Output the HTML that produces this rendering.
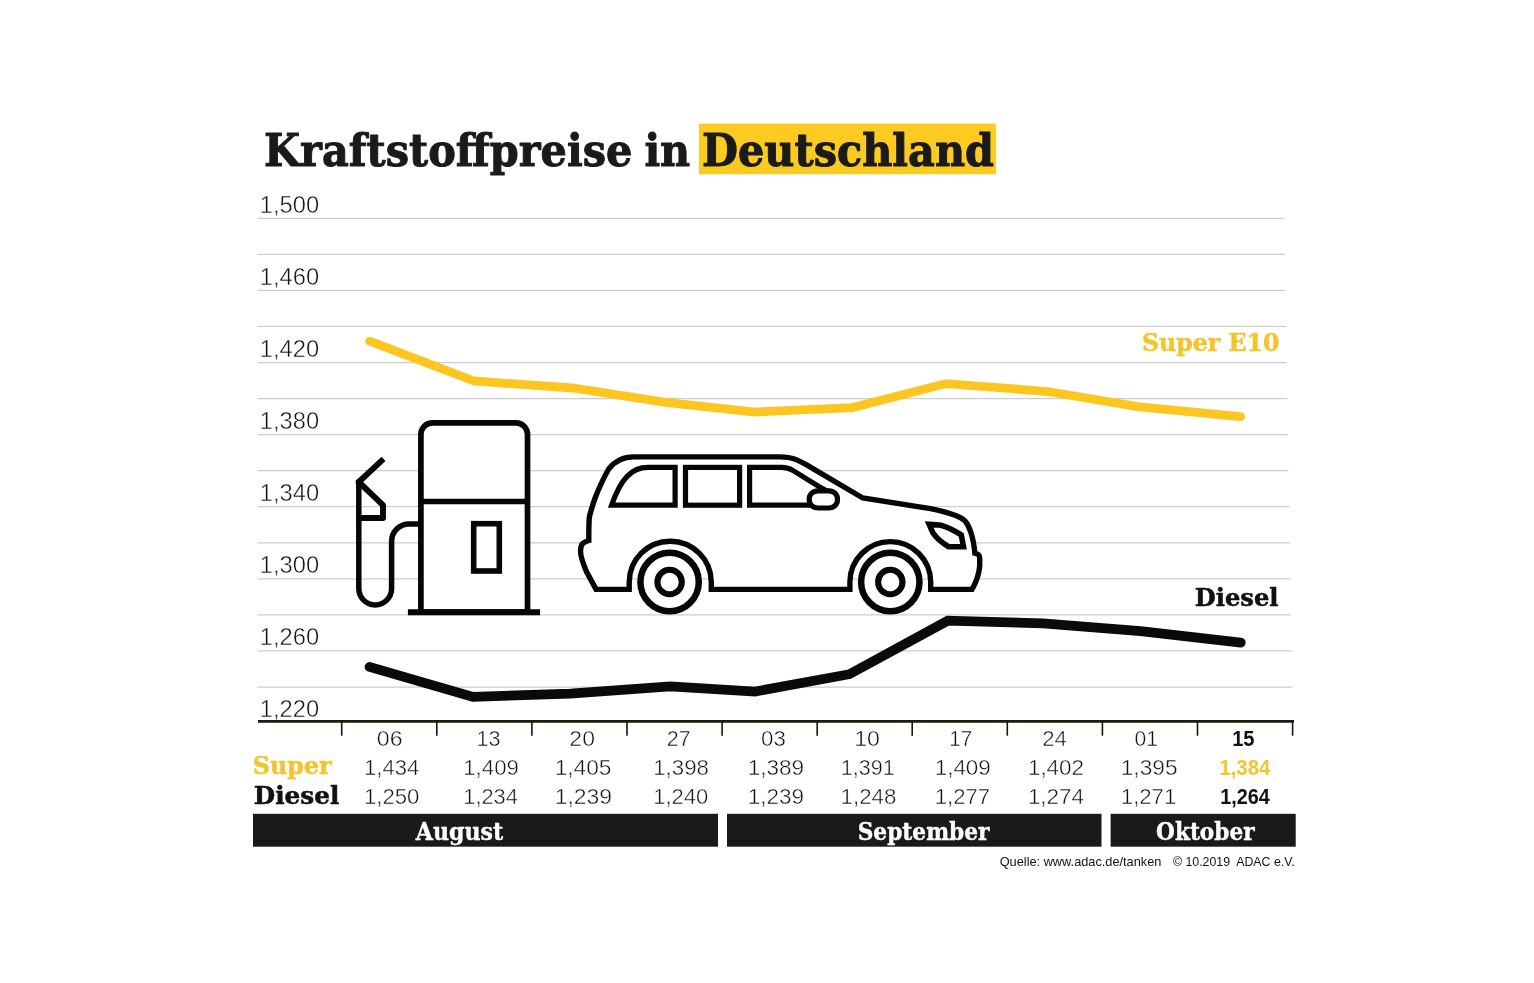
<!DOCTYPE html>
<html lang="de"><head><meta charset="utf-8"><title>Kraftstoffpreise in Deutschland</title>
<style>html,body{margin:0;padding:0;background:#fff}svg{display:block}.slab{font-family:"DejaVu Serif","Liberation Serif",serif;font-weight:bold}.sans{font-family:"Liberation Sans","DejaVu Sans",sans-serif}</style></head><body>
<svg width="1534" height="983" viewBox="0 0 1534 983">
<rect width="1534" height="983" fill="#fff"/>
<rect x="699" y="123.6" width="297" height="50.6" fill="#fccb22"/>
<text class="slab" x="264.09" y="166" font-size="45.5" fill="#1a1a18" stroke="#1a1a18" stroke-width="1.0" stroke-linejoin="round" textLength="368.29" lengthAdjust="spacingAndGlyphs">Kraftstoffpreise</text>
<text class="slab" x="644.39" y="166" font-size="45.5" fill="#1a1a18" stroke="#1a1a18" stroke-width="1.0" stroke-linejoin="round" textLength="45.85" lengthAdjust="spacingAndGlyphs">in</text>
<text class="slab" x="702.09" y="166" font-size="45.5" fill="#1a1a18" stroke="#1a1a18" stroke-width="1.0" stroke-linejoin="round" textLength="291.94" lengthAdjust="spacingAndGlyphs">Deutschland</text>
<g stroke="#cdcdcf" stroke-width="1.25" fill="none">
<line x1="257.5" y1="218.3" x2="1284.0" y2="218.3"/>
<line x1="257.5" y1="254.4" x2="1284.7" y2="254.4"/>
<line x1="257.5" y1="290.4" x2="1285.3" y2="290.4"/>
<line x1="257.5" y1="326.4" x2="1286.0" y2="326.4"/>
<line x1="257.5" y1="362.5" x2="1286.6" y2="362.5"/>
<line x1="257.5" y1="398.6" x2="1287.3" y2="398.6"/>
<line x1="257.5" y1="434.6" x2="1287.9" y2="434.6"/>
<line x1="257.5" y1="470.6" x2="1288.6" y2="470.6"/>
<line x1="257.5" y1="506.7" x2="1289.2" y2="506.7"/>
<line x1="257.5" y1="542.8" x2="1289.9" y2="542.8"/>
<line x1="257.5" y1="578.8" x2="1290.5" y2="578.8"/>
<line x1="257.5" y1="614.8" x2="1291.2" y2="614.8"/>
<line x1="257.5" y1="650.9" x2="1291.8" y2="650.9"/>
<line x1="257.5" y1="687.0" x2="1292.5" y2="687.0"/>
</g>
<text class="sans" x="259.81" y="212.9" font-size="23.9" fill="#111111" stroke="#fff" stroke-width="0.45" textLength="59.38" lengthAdjust="spacingAndGlyphs">1,500</text>
<text class="sans" x="259.81" y="284.9" font-size="23.9" fill="#111111" stroke="#fff" stroke-width="0.45" textLength="59.38" lengthAdjust="spacingAndGlyphs">1,460</text>
<text class="sans" x="259.81" y="356.9" font-size="23.9" fill="#111111" stroke="#fff" stroke-width="0.45" textLength="59.38" lengthAdjust="spacingAndGlyphs">1,420</text>
<text class="sans" x="259.81" y="428.9" font-size="23.9" fill="#111111" stroke="#fff" stroke-width="0.45" textLength="59.38" lengthAdjust="spacingAndGlyphs">1,380</text>
<text class="sans" x="259.81" y="500.9" font-size="23.9" fill="#111111" stroke="#fff" stroke-width="0.45" textLength="59.38" lengthAdjust="spacingAndGlyphs">1,340</text>
<text class="sans" x="259.81" y="572.9" font-size="23.9" fill="#111111" stroke="#fff" stroke-width="0.45" textLength="59.38" lengthAdjust="spacingAndGlyphs">1,300</text>
<text class="sans" x="259.81" y="644.8" font-size="23.9" fill="#111111" stroke="#fff" stroke-width="0.45" textLength="59.38" lengthAdjust="spacingAndGlyphs">1,260</text>
<text class="sans" x="259.81" y="716.8" font-size="23.9" fill="#111111" stroke="#fff" stroke-width="0.45" textLength="59.38" lengthAdjust="spacingAndGlyphs">1,220</text>
<polyline points="369.6,341.2 474,381 572.6,388 665.5,402.4 755,412 852.7,407.6 945.9,383.6 1047.5,391.5 1139,406.8 1240.7,416.6" fill="none" stroke="#fcc621" stroke-width="8.8" stroke-linecap="round" stroke-linejoin="miter"/>
<g fill="none" stroke="#060606" stroke-linejoin="miter">

<path d="M420.9 612.2 V434.3 a11.5 11.5 0 0 1 11.5 -11.5 H516 a11.5 11.5 0 0 1 11.5 11.5 V612.2 Z" fill="#fff" stroke-width="5.7"/>
<line x1="407.9" y1="612.2" x2="540.1" y2="612.2" stroke-width="6.1"/>
<line x1="420.9" y1="501.5" x2="527.5" y2="501.5" stroke-width="5.6"/>
<rect x="473.7" y="523.7" width="25.6" height="47.3" stroke-width="5.6"/>
<path d="M420.9 523.9 H409.1 a17.5 17.5 0 0 0 -17.5 17.5 V588.5 a16.4 16.4 0 0 1 -32.8 0 V484" stroke-width="5.5"/>
<path d="M383.5 458.9 L358.8 482 L383 505.2 V518 H358.8" stroke-width="5.9" stroke-linejoin="round"/><path d="M355.85 484 V480.5 L358.8 478 V484 Z" fill="#060606" stroke="none"/>

<path d="M596.1 589.4 L586.4 571.5 C582 561 580 555 580.6 550.2 C580.8 544 583 542.2 588.8 540.5 L588.8 537.6 C588.8 530 588.8 524 589.3 517.3 C591 510 593 504 595.1 498 C599 488 603 479 608.7 469 C615 461 622 456.9 633.8 456.9 H779.7 C786 456.9 790 457.3 795.1 459.3 C800 461 804 463.5 808.7 466.1 L862.8 498 L930.4 508.6 C940 510.5 948 512.5 955.6 515.4 C960 517 963 518.5 965.3 521.2 C968 524.5 969.5 528 971 532.8 C973 539 974 544 974.9 553.2 C978.5 554 979.7 555 979.7 558 V565.7 C979.5 570 978.5 574 976.8 579.2 C975.5 583 974 586 972 589.4 H930.7 V582 a40.4 40.4 0 0 0 -80.8 0 V589.4 H711.3 V582.2 a41.05 41.05 0 0 0 -82.1 0 V589.4 Z" fill="#fff" stroke-width="5.4"/>
<circle cx="669.6" cy="582" r="29.2" fill="#fff" stroke-width="6.5"/>
<circle cx="669.6" cy="582" r="12.2" stroke-width="6.1"/>
<circle cx="890.3" cy="582" r="29.2" fill="#fff" stroke-width="6.5"/>
<circle cx="890.3" cy="582" r="12.2" stroke-width="6.1"/>
<path d="M611.6 505.2 H675.1 V467.4 H648 C632 467.4 621 478 611.6 505.2 Z" stroke-width="5.2"/>
<rect x="685.5" y="467.4" width="54.1" height="37.8" stroke-width="5.2"/>
<path d="M833 494.3 L818.8 486.5 L793.2 470.6 C789 468 786 467.4 781.6 467.4 H749.6 V505.2 H811" stroke-width="5.2"/>
<rect x="809.2" y="490.8" width="28.3" height="17.2" rx="8.6" ry="8.2" fill="#fff" stroke-width="5.2"/>
<path d="M929.1 524.3 C934 524.5 937 524.6 940.8 525.2 C946 526.5 955 531 961.3 534.9 L963.5 546.7 H948.7 C943 543.5 936 537.5 932.7 532.5 Z" stroke-width="5.6"/>
</g>

<polyline points="369.5,666.9 472.9,696.9 570.3,693.6 670.3,686.4 755.1,691.5 849.4,674.2 947.8,620.7 1043,623.3 1140.5,631.1 1240.8,642.6" fill="none" stroke="#0a0a0a" stroke-width="9.7" stroke-linecap="round" stroke-linejoin="miter"/>
<text class="slab" x="1141.9" y="350.5" font-size="23.7" fill="#f5c42c" stroke="#f5c42c" stroke-width="0.5" stroke-linejoin="round" textLength="137.52" lengthAdjust="spacingAndGlyphs">Super E10</text>
<text class="slab" x="1194.8" y="605.8" font-size="23.9" fill="#111" stroke="#111" stroke-width="0.5" stroke-linejoin="round" textLength="83.73" lengthAdjust="spacingAndGlyphs">Diesel</text>
<line x1="258" y1="721.45" x2="1294" y2="721.45" stroke="#1c1a0a" stroke-width="2.7"/>
<g stroke="#16140a" stroke-width="1.6">
<line x1="341.7" y1="721" x2="341.7" y2="735.7"/>
<line x1="436.8" y1="721" x2="436.8" y2="735.7"/>
<line x1="531.9" y1="721" x2="531.9" y2="735.7"/>
<line x1="627.0" y1="721" x2="627.0" y2="735.7"/>
<line x1="722.1" y1="721" x2="722.1" y2="735.7"/>
<line x1="817.2" y1="721" x2="817.2" y2="735.7"/>
<line x1="912.2" y1="721" x2="912.2" y2="735.7"/>
<line x1="1007.3" y1="721" x2="1007.3" y2="735.7"/>
<line x1="1102.4" y1="721" x2="1102.4" y2="735.7"/>
<line x1="1197.5" y1="721" x2="1197.5" y2="735.7"/>
<line x1="1292.6" y1="721" x2="1292.6" y2="735.7"/>
</g>
<rect x="253" y="813.8" width="465.0" height="32.9" fill="#1a1a18"/>
<rect x="727" y="813.8" width="374.5" height="32.9" fill="#1a1a18"/>
<rect x="1110.6" y="813.8" width="185.1" height="32.9" fill="#1a1a18"/>
<text class="sans" x="376.87" y="746" font-size="22.5" fill="#111111" stroke="#fff" stroke-width="0.45" textLength="25.79" lengthAdjust="spacingAndGlyphs">06</text>
<text class="sans" x="364.04" y="775" font-size="22.5" fill="#111111" stroke="#fff" stroke-width="0.45" textLength="55.17" lengthAdjust="spacingAndGlyphs">1,434</text>
<text class="sans" x="364.03" y="803.9" font-size="22.5" fill="#111111" stroke="#fff" stroke-width="0.45" textLength="55.37" lengthAdjust="spacingAndGlyphs">1,250</text>
<text class="sans" x="476.57" y="746" font-size="22.5" fill="#111111" stroke="#fff" stroke-width="0.45" textLength="24.12" lengthAdjust="spacingAndGlyphs">13</text>
<text class="sans" x="463.22" y="775" font-size="22.5" fill="#111111" stroke="#fff" stroke-width="0.45" textLength="55.68" lengthAdjust="spacingAndGlyphs">1,409</text>
<text class="sans" x="463.26" y="803.9" font-size="22.5" fill="#111111" stroke="#fff" stroke-width="0.45" textLength="54.64" lengthAdjust="spacingAndGlyphs">1,234</text>
<text class="sans" x="569.38" y="746" font-size="22.5" fill="#111111" stroke="#fff" stroke-width="0.45" textLength="25.58" lengthAdjust="spacingAndGlyphs">20</text>
<text class="sans" x="554.68" y="775" font-size="22.5" fill="#111111" stroke="#fff" stroke-width="0.45" textLength="56.84" lengthAdjust="spacingAndGlyphs">1,405</text>
<text class="sans" x="554.66" y="803.9" font-size="22.5" fill="#111111" stroke="#fff" stroke-width="0.45" textLength="57.48" lengthAdjust="spacingAndGlyphs">1,239</text>
<text class="sans" x="666.85" y="746" font-size="22.5" fill="#111111" stroke="#fff" stroke-width="0.45" textLength="23.83" lengthAdjust="spacingAndGlyphs">27</text>
<text class="sans" x="653.22" y="775" font-size="22.5" fill="#111111" stroke="#fff" stroke-width="0.45" textLength="55.67" lengthAdjust="spacingAndGlyphs">1,398</text>
<text class="sans" x="653.24" y="803.9" font-size="22.5" fill="#111111" stroke="#fff" stroke-width="0.45" textLength="55.06" lengthAdjust="spacingAndGlyphs">1,240</text>
<text class="sans" x="761.01" y="746" font-size="22.5" fill="#111111" stroke="#fff" stroke-width="0.45" textLength="24.81" lengthAdjust="spacingAndGlyphs">03</text>
<text class="sans" x="747.7" y="775" font-size="22.5" fill="#111111" stroke="#fff" stroke-width="0.45" textLength="56.42" lengthAdjust="spacingAndGlyphs">1,389</text>
<text class="sans" x="747.7" y="803.9" font-size="22.5" fill="#111111" stroke="#fff" stroke-width="0.45" textLength="56.42" lengthAdjust="spacingAndGlyphs">1,239</text>
<text class="sans" x="854.15" y="746" font-size="22.5" fill="#111111" stroke="#fff" stroke-width="0.45" textLength="25.71" lengthAdjust="spacingAndGlyphs">10</text>
<text class="sans" x="840.68" y="775" font-size="22.5" fill="#111111" stroke="#fff" stroke-width="0.45" textLength="53.97" lengthAdjust="spacingAndGlyphs">1,391</text>
<text class="sans" x="840.62" y="803.9" font-size="22.5" fill="#111111" stroke="#fff" stroke-width="0.45" textLength="55.67" lengthAdjust="spacingAndGlyphs">1,248</text>
<text class="sans" x="949.26" y="746" font-size="22.5" fill="#111111" stroke="#fff" stroke-width="0.45" textLength="22.98" lengthAdjust="spacingAndGlyphs">17</text>
<text class="sans" x="934.71" y="775" font-size="22.5" fill="#111111" stroke="#fff" stroke-width="0.45" textLength="56.1" lengthAdjust="spacingAndGlyphs">1,409</text>
<text class="sans" x="934.73" y="803.9" font-size="22.5" fill="#111111" stroke="#fff" stroke-width="0.45" textLength="55.46" lengthAdjust="spacingAndGlyphs">1,277</text>
<text class="sans" x="1042.22" y="746" font-size="22.5" fill="#111111" stroke="#fff" stroke-width="0.45" textLength="24.6" lengthAdjust="spacingAndGlyphs">24</text>
<text class="sans" x="1027.9" y="775" font-size="22.5" fill="#111111" stroke="#fff" stroke-width="0.45" textLength="56.21" lengthAdjust="spacingAndGlyphs">1,402</text>
<text class="sans" x="1027.91" y="803.9" font-size="22.5" fill="#111111" stroke="#fff" stroke-width="0.45" textLength="56.1" lengthAdjust="spacingAndGlyphs">1,274</text>
<text class="sans" x="1134.57" y="746" font-size="22.5" fill="#111111" stroke="#fff" stroke-width="0.45" textLength="23.4" lengthAdjust="spacingAndGlyphs">01</text>
<text class="sans" x="1120.78" y="775" font-size="22.5" fill="#111111" stroke="#fff" stroke-width="0.45" textLength="56.74" lengthAdjust="spacingAndGlyphs">1,395</text>
<text class="sans" x="1120.83" y="803.9" font-size="22.5" fill="#111111" stroke="#fff" stroke-width="0.45" textLength="55.36" lengthAdjust="spacingAndGlyphs">1,271</text>
<text class="sans" x="1232.17" y="745.7" font-size="21.5" font-weight="bold" fill="#111" textLength="22.36" lengthAdjust="spacingAndGlyphs">15</text>
<text class="sans" x="1219.46" y="774.5" font-size="21.5" font-weight="bold" fill="#f5c42c" textLength="50.77" lengthAdjust="spacingAndGlyphs">1,384</text>
<text class="sans" x="1220.28" y="803.7" font-size="21.5" font-weight="bold" fill="#111" textLength="49.55" lengthAdjust="spacingAndGlyphs">1,264</text>
<text class="slab" x="252.79" y="774.2" font-size="23.5" fill="#f5c42c" stroke="#f5c42c" stroke-width="0.5" stroke-linejoin="round" textLength="78.73" lengthAdjust="spacingAndGlyphs">Super</text>
<text class="slab" x="253.8" y="803.6" font-size="23.5" fill="#111" stroke="#111" stroke-width="0.5" stroke-linejoin="round" textLength="85.49" lengthAdjust="spacingAndGlyphs">Diesel</text>
<text class="slab" x="415.84" y="839.7" font-size="23.5" fill="#fff" stroke="#fff" stroke-width="0.4" stroke-linejoin="round" textLength="87.39" lengthAdjust="spacingAndGlyphs">August</text>
<text class="slab" x="857.68" y="839.7" font-size="23.5" fill="#fff" stroke="#fff" stroke-width="0.4" stroke-linejoin="round" textLength="131.81" lengthAdjust="spacingAndGlyphs">September</text>
<text class="slab" x="1156.08" y="839.6" font-size="23.5" fill="#fff" stroke="#fff" stroke-width="0.4" stroke-linejoin="round" textLength="98.44" lengthAdjust="spacingAndGlyphs">Oktober</text>
<text class="sans" x="999.7" y="865.8" font-size="12.2" fill="#111111" textLength="161.69" lengthAdjust="spacingAndGlyphs">Quelle: www.adac.de/tanken</text>
<text class="sans" x="1172.9" y="865.8" font-size="12.2" fill="#111111" textLength="121.83" lengthAdjust="spacingAndGlyphs" xml:space="preserve">© 10.2019  ADAC e.V.</text>
</svg></body></html>
